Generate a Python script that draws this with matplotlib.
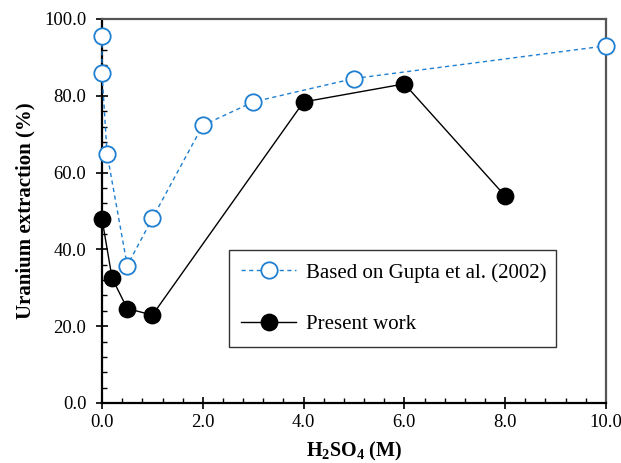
import matplotlib
matplotlib.use("Agg")
import matplotlib.pyplot as plt
from matplotlib.ticker import MultipleLocator, FormatStrFormatter

# acid concentration (M) vs uranium extraction (%)
gupta_x = [0.0, 0.0, 0.1, 0.5, 1.0, 2.0, 3.0, 5.0, 10.0]
gupta_y = [95.6, 85.9, 64.9, 35.8, 48.1, 72.3, 78.4, 84.5, 93.0]
present_x = [0.0, 0.2, 0.5, 1.0, 4.0, 6.0, 8.0]
present_y = [47.9, 32.5, 24.6, 22.9, 78.4, 83.1, 53.9]

BLUE = "#1f7fd0"

plt.rcParams["font.family"] = ["Liberation Serif", "DejaVu Serif"]
plt.rcParams["mathtext.fontset"] = "custom"
plt.rcParams["mathtext.rm"] = "Liberation Serif"
plt.rcParams["mathtext.bf"] = "Liberation Serif:bold"

fig = plt.figure(figsize=(6.21, 4.63), dpi=100)
ax = fig.add_axes([0.1643, 0.1296, 0.8115, 0.8294])

ax.plot(gupta_x, gupta_y, ls="--", dashes=(3, 2.5), lw=1.0, color=BLUE, marker="o",
        ms=11.8, mfc="white", mec=BLUE, mew=1.3, label="Based on Gupta et al. (2002)",
        clip_on=False, zorder=3)
ax.plot(present_x, present_y, ls="-", lw=1.0, color="black", marker="o",
        ms=11.8, mfc="black", mec="black", label="Present work", clip_on=False, zorder=4)

ax.set_xlim(0, 10)
ax.set_ylim(0, 100)
ax.xaxis.set_major_locator(MultipleLocator(2))
ax.xaxis.set_minor_locator(MultipleLocator(0.4))
ax.yaxis.set_major_locator(MultipleLocator(20))
ax.yaxis.set_minor_locator(MultipleLocator(4))
ax.xaxis.set_major_formatter(FormatStrFormatter("%.1f"))
ax.yaxis.set_major_formatter(FormatStrFormatter("%.1f"))
ax.tick_params(which="major", direction="inout", length=8.5, width=1.2, labelsize=13.4)
ax.tick_params(which="minor", direction="in", length=3.8, width=1.0)
ax.tick_params(axis="y", which="major", pad=7)
ax.tick_params(axis="x", which="major", pad=4)
ax.tick_params(top=False, right=False, which="both")

for s in ("left", "bottom"):
    ax.spines[s].set_linewidth(1.6)
    ax.spines[s].set_color("black")
for s in ("top", "right"):
    ax.spines[s].set_linewidth(1.6)
    ax.spines[s].set_color("#555555")

ax.set_xlabel(r"$\mathbf{H_2SO_4}$ (M)", fontsize=14.5, fontweight="bold", labelpad=6)
ax.set_ylabel("Uranium extraction (%)", fontsize=15, fontweight="bold", labelpad=6)

leg = ax.legend(loc="lower left", bbox_to_anchor=(0.251, 0.146, 0.65, 0.26), mode="expand",
                fontsize=15, frameon=True, fancybox=False, edgecolor="black",
                borderpad=0.6, labelspacing=1.55, handlelength=2.65, handletextpad=0.45,
                borderaxespad=0)
leg.get_frame().set_linewidth(1.0)

fig.savefig("out.png", dpi=100)
